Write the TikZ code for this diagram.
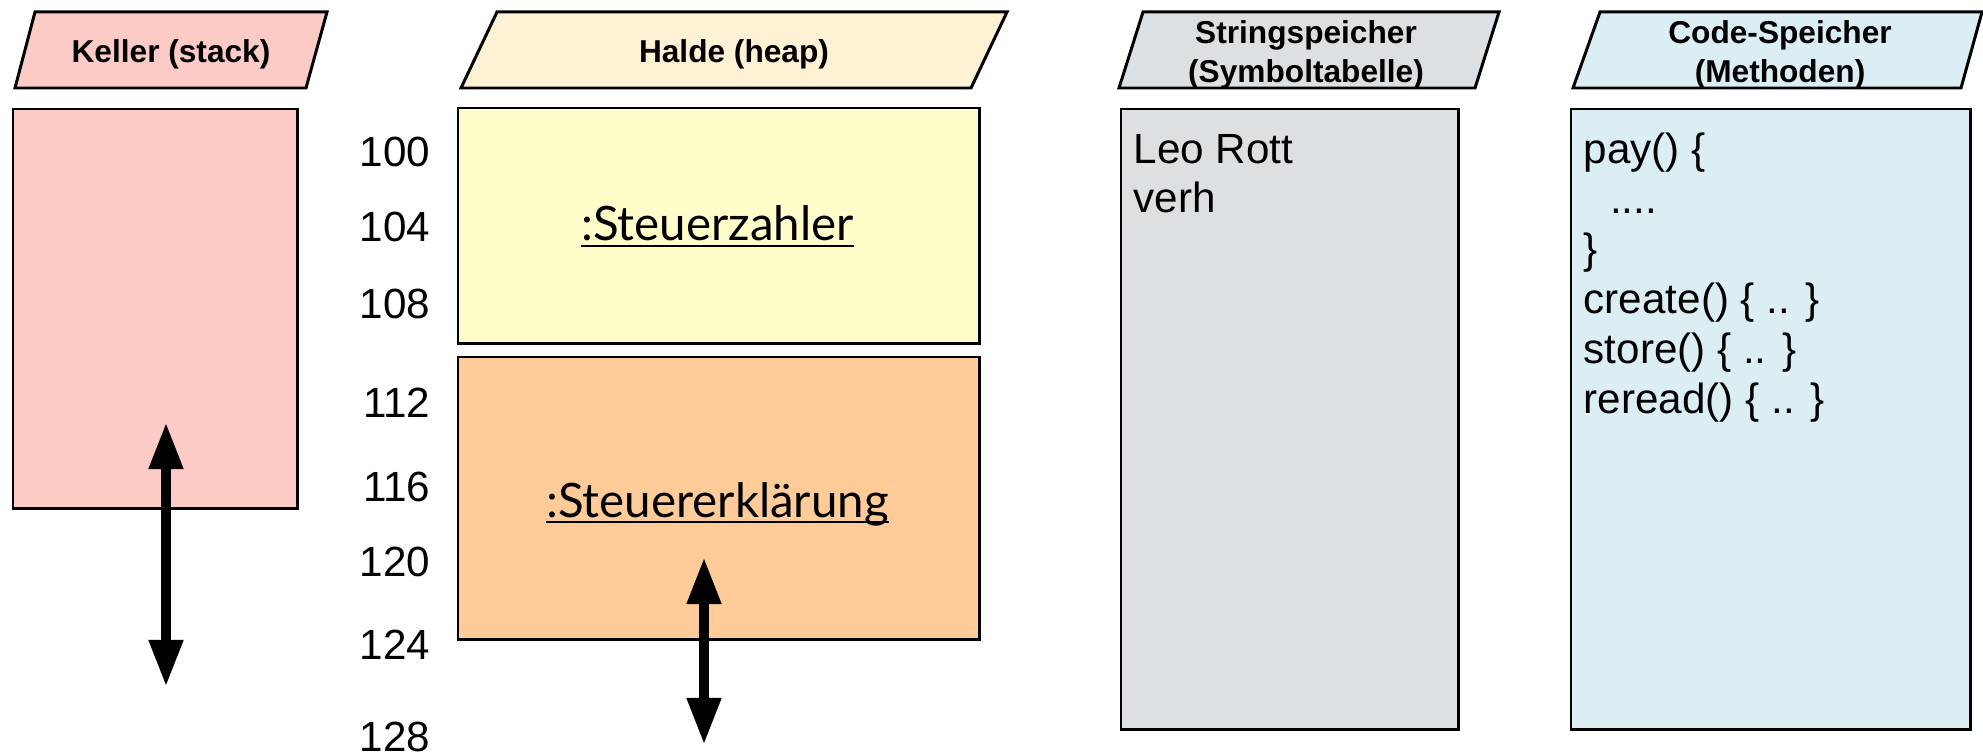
\documentclass[tikz,border=0pt]{standalone}
\usepackage{fontspec}
\setmainfont{Liberation Sans}
\newfontfamily\latofont{Lato}
\usetikzlibrary{arrows.meta}

\definecolor{stackfill}{HTML}{FCCBC5}
\definecolor{heapfill}{HTML}{FFF2D4}
\definecolor{objfill}{HTML}{FFFDC9}
\definecolor{declfill}{HTML}{FFCB98}
\definecolor{strfill}{HTML}{DCE0E3}
\definecolor{codefill}{HTML}{DAEEF3}

% underlined object name, line crossing the descenders
\newcommand{\objname}[1]{\leavevmode\setbox0\hbox{#1}\rlap{\rule[-1.7pt]{\wd0}{0.6pt}}\box0}

\tikzset{
  header/.style={draw, line width=0.85pt, line join=miter},
  headtext/.style={font=\bfseries\fontsize{9}{11.1}\selectfont, align=center, inner sep=0pt},
  membox/.style={draw, line width=0.7pt, anchor=north west, inner sep=0pt},
  celltext/.style={font=\fontsize{12}{14.2}\selectfont, align=left, inner sep=0pt},
  objtext/.style={font=\latofont\fontsize{13.5}{16}\selectfont, anchor=base, inner sep=0pt},
  addr/.style={font=\fontsize{12}{14.2}\selectfont, anchor=base east, inner sep=0pt},
  growarrow/.style={{Triangle[length=13.4pt,width=9.1pt]}-{Triangle[length=13.4pt,width=9.1pt]}, line width=3pt}
}

\begin{document}
\begin{tikzpicture}[x=0.01cm, y=-0.01cm]
        \useasboundingbox (0,0) rectangle (1983,755);

        % Headers (base = last line)
        \draw[header, fill=stackfill] (35,12) -- (327,12) -- (306,88) -- (15,88) -- cycle;
        \node[headtext, anchor=base] (stackhead) at (171,63) {Keller (stack)};
        \draw[header, fill=heapfill] (497,12) -- (1007,12) -- (971,88) -- (461,88) -- cycle;
        \node[headtext, anchor=base] (heaphead) at (734,63) {Halde (heap)};
        \draw[header, fill=strfill] (1143,12) -- (1499,12) -- (1475,88) -- (1119,88) -- cycle;
        \node[headtext, anchor=base] (strhead) at (1306,83) {Stringspeicher\\(Symboltabelle)};
        \draw[header, fill=codefill] (1600,12) -- (1982,12) -- (1961,88) -- (1573,88) -- cycle;
        \node[headtext, anchor=base] (codehead) at (1780,83) {Code-Speicher\\(Methoden)};

        % Memory areas
        \node[membox, fill=stackfill, minimum width=2.84cm, minimum height=3.99cm] (stack) at (12,108) {};
        \node[membox, fill=objfill, minimum width=5.21cm, minimum height=2.35cm] (payer) at (457,107) {};
        \node[membox, fill=declfill, minimum width=5.21cm, minimum height=2.82cm] (decl) at (457,356) {};
        \node[membox, fill=strfill, minimum width=3.37cm, minimum height=6.20cm] (strings) at (1120,108) {};
        \node[membox, fill=codefill, minimum width=3.99cm, minimum height=6.20cm] (code) at (1570,108) {};

        % Objects on the heap
        \node[objtext] (payertext) at (717.5,241) {\objname{:Steuerzahler}};
        \node[objtext] (decltext) at (717.5,517) {\objname{:Steuererklärung}};

        % Contents
        \node[celltext, anchor=base west] (strtext) at (1133,213) {Leo Rott\\verh};
        \node[celltext, anchor=base west] (codetext) at (1583,413) {pay() \{\\\hspace*{7.5pt}....\\\}\\create() \{ .. \}\\store() \{ .. \}\\reread() \{ .. \}};

        % Addresses
        \foreach \adr/\yb in {100/167,104/242,108/318,112/417,116/501,120/576,124/659,128/751}
          \node[addr] (a\adr) at (431,\yb) {\adr};

        % Growth arrows
        \coordinate (stacktop) at (166,422);
        \coordinate (stackbot) at (166,687);
        \draw[growarrow] (stacktop) -- (stackbot);
        \coordinate (heaptop) at (704,557);
        \coordinate (heapbot) at (704,745);
        \draw[growarrow] (heaptop) -- (heapbot);
    \end{tikzpicture}
\end{document}
